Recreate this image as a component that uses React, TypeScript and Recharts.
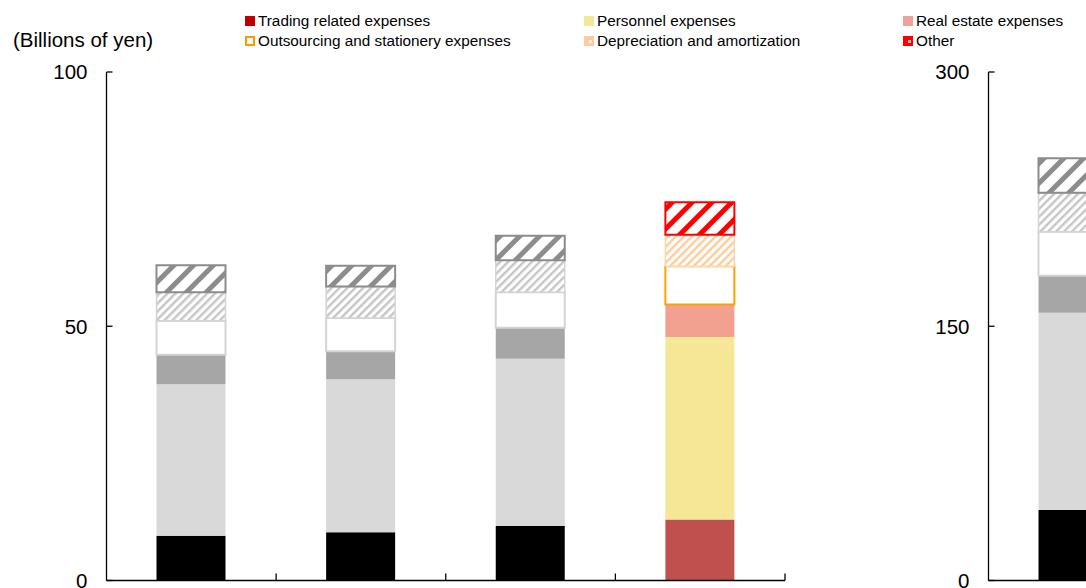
import { Bar, BarChart, Cell, XAxis, YAxis } from "recharts"

const periods = ["1", "2", "3", "4"]

// left panel (billions of yen), stacked bottom to top
const trading = [8.8, 9.5, 10.7, 12.0]
const personnel = [29.8, 30.1, 32.9, 35.9]
const realEstate = [5.8, 5.5, 6.1, 6.4]
const outsourcing = [6.7, 6.5, 7.0, 7.5]
const depreciation = [5.6, 6.2, 6.3, 6.2]
const other = [5.3, 4.1, 4.8, 6.4]

// right panel, only the first period is in view
const tradingR = [41.6]
const personnelR = [116.4]
const realEstateR = [21.8]
const outsourcingR = [26.0]
const depreciationR = [23.0]
const otherR = [20.3]

const leftTicks = [0, 50, 100]
const rightTicks = [0, 150, 300]

const seriesNames = [
  "Trading related expenses",
  "Personnel expenses",
  "Real estate expenses",
  "Outsourcing and stationery expenses",
  "Depreciation and amortization",
  "Other",
]
const keys = ["trading", "personnel", "realEstate", "outsourcing", "depreciation", "other"]

// latest period is drawn in colour, earlier ones in greys
const highlight = 3

type Look = { fill: string; stroke: string; width: number }
const greyLook: Look[] = [
  { fill: "#000000", stroke: "none", width: 0 },
  { fill: "#D9D9D9", stroke: "none", width: 0 },
  { fill: "#A6A6A6", stroke: "none", width: 0 },
  { fill: "#FFFFFF", stroke: "#D4D4D4", width: 2 },
  { fill: "url(#fine-grey)", stroke: "#D4D4D4", width: 1.5 },
  { fill: "url(#wide-grey)", stroke: "#8C8C8C", width: 2 },
]
const colourLook: Look[] = [
  { fill: "#C0504D", stroke: "none", width: 0 },
  { fill: "#F6E796", stroke: "none", width: 0 },
  { fill: "#F2A090", stroke: "none", width: 0 },
  { fill: "#FFFFFF", stroke: "#FFA200", width: 2 },
  { fill: "url(#fine-orange)", stroke: "#FFD5AE", width: 1.5 },
  { fill: "url(#wide-red)", stroke: "#FF0000", width: 2 },
]
const legendFill = ["#C00000", "#F5E79A", "#EBA39B", "#FFFFFF", "#FFCB9C", "#FF0000"]
const legendStroke = ["none", "none", "none", "#FF9900", "none", "none"]

function buildRows(cols: number[][]) {
  return periods.map((period, i) => {
    const row: Record<string, string | number | undefined> = { period }
    keys.forEach((k, j) => (row[k] = cols[j][i]))
    return row
  })
}

const leftRows = buildRows([trading, personnel, realEstate, outsourcing, depreciation, other])
const rightRows = buildRows([tradingR, personnelR, realEstateR, outsourcingR, depreciationR, otherR])

const FONT = '"Liberation Sans", Arial, sans-serif'
const AXIS = { stroke: "#000", strokeWidth: 1.3 }
const Y_GAP = 19

function YTick(props: any) {
  const { x, y, payload } = props
  return (
    <g>
      <line x1={x + Y_GAP} x2={x + Y_GAP + 6} y1={y} y2={y} stroke="#000" strokeWidth={1.3} />
      <text x={x} y={y} dy="0.36em" textAnchor="end" fontSize={20.5} fontFamily={FONT} fill="#000">
        {payload.value}
      </text>
    </g>
  )
}

// tick marks sit on the category boundaries, pointing up into the plot
function XTick(props: any) {
  const { x, y, payload } = props
  const bx = x + (payload.offset ?? 84.8)
  return <line x1={bx} x2={bx} y1={y} y2={y - 7} stroke="#000" strokeWidth={1.3} />
}

function Panel({ rows, max, ticks }: { rows: any[]; max: number; ticks: number[] }) {
  return (
    <BarChart width={800} height={610} data={rows} margin={{ top: 72, right: 15, bottom: 0, left: 0 }} barSize={69}>
      <XAxis
        dataKey="period"
        height={29.5}
        axisLine={AXIS}
        tickLine={false}
        tickSize={0}
        tickMargin={0}
        interval={0}
        tick={<XTick />}
      />
      <YAxis
        domain={[0, max]}
        ticks={ticks}
        width={106.5}
        axisLine={AXIS}
        tickLine={false}
        tickSize={0}
        tickMargin={Y_GAP}
        interval={0}
        tick={<YTick />}
      />
      {keys.map((k, j) => (
        <Bar key={k} dataKey={k} name={seriesNames[j]} stackId="cost" isAnimationActive={false}>
          {rows.map((_, i) => {
            const look = i === highlight ? colourLook[j] : greyLook[j]
            return <Cell key={i} fill={look.fill} stroke={look.stroke} strokeWidth={look.width} />
          })}
        </Bar>
      ))}
    </BarChart>
  )
}

function Patterns() {
  return (
    <svg width={0} height={0} style={{ position: "absolute" }}>
      <defs>
        <pattern id="wide-grey" width={14} height={14} patternUnits="userSpaceOnUse" patternTransform="rotate(45)">
          <rect width={14} height={14} fill="#fff" />
          <rect width={5} height={14} fill="#8C8C8C" />
        </pattern>
        <pattern id="wide-red" width={14} height={14} patternUnits="userSpaceOnUse" patternTransform="rotate(45)">
          <rect width={14} height={14} fill="#fff" />
          <rect width={5} height={14} fill="#FF0000" />
        </pattern>
        <pattern id="fine-grey" width={5.6} height={5.6} patternUnits="userSpaceOnUse" patternTransform="rotate(45)">
          <rect width={5.6} height={5.6} fill="#fff" />
          <rect width={2.4} height={5.6} fill="#C6C6C6" />
        </pattern>
        <pattern id="fine-orange" width={5.6} height={5.6} patternUnits="userSpaceOnUse" patternTransform="rotate(45)">
          <rect width={5.6} height={5.6} fill="#fff" />
          <rect width={2.4} height={5.6} fill="#FFCC99" />
        </pattern>
      </defs>
    </svg>
  )
}

const legendCols = [245, 584, 903]
const legendRows = [16, 36]

function Header() {
  return (
    <svg width={1086} height={60} style={{ position: "absolute", left: 0, top: 0 }}>
      <text x={13} y={46.5} fontSize={20.5} fontFamily={FONT} fill="#000">
        (Billions of yen)
      </text>
      {seriesNames.map((name, j) => {
        const x = legendCols[j % 3]
        const y = legendRows[Math.floor(j / 3)]
        const hatched = j === 4 || j === 5
        return (
          <g key={name}>
            <rect
              x={x + (legendStroke[j] === "none" ? 0 : 1)}
              y={y + (legendStroke[j] === "none" ? 0 : 1)}
              width={legendStroke[j] === "none" ? 10 : 8}
              height={legendStroke[j] === "none" ? 10 : 8}
              fill={legendFill[j]}
              stroke={legendStroke[j]}
              strokeWidth={2}
            />
            {hatched && <rect x={x + 5} y={y + 4} width={3} height={3} fill="#fff" opacity={0.7} />}
            <text x={x + 13} y={y + 9.5} fontSize={15.3} fontFamily={FONT} fill="#000">
              {name}
            </text>
          </g>
        )
      })}
    </svg>
  )
}

export default function App() {
  return (
    <div
      style={{
        position: "absolute",
        left: 0,
        top: 0,
        width: 1086,
        height: 588,
        overflow: "hidden",
        background: "#fff",
        fontFamily: FONT,
      }}
    >
      <Patterns />
      <div style={{ position: "absolute", left: 0, top: 0 }}>
        <Panel rows={leftRows} max={100} ticks={leftTicks} />
      </div>
      <div style={{ position: "absolute", left: 882, top: 0 }}>
        <Panel rows={rightRows} max={300} ticks={rightTicks} />
      </div>
      <Header />
    </div>
  )
}
